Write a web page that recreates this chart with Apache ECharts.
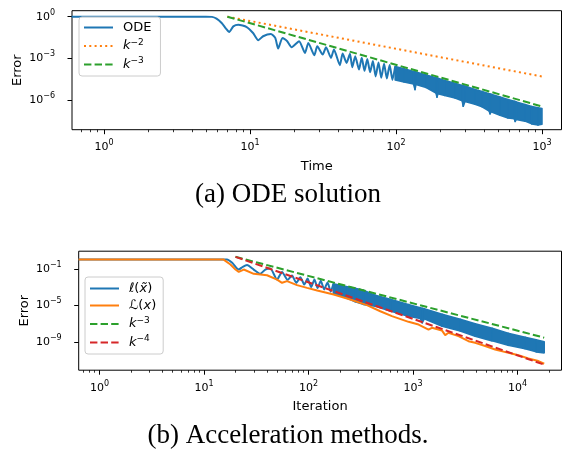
<!DOCTYPE html>
<html>
<head>
<meta charset="utf-8">
<script src="https://cdn.jsdelivr.net/npm/echarts@6/dist/echarts.min.js"></script>
<style>
  html, body { margin: 0; padding: 0; background: #fff; }
  #chart { width: 563px; height: 449px; }
</style>
</head>
<body>
<div id="chart"></div>
<script>
// ---------- (a) ODE solution ----------
// error curve while the individual oscillations are still resolved
const odeT = [0.6, 1, 2, 3, 4, 5, 5.5, 5.9, 6.4, 6.85, 7.21, 7.69, 8.32, 9.5, 10.5, 11.4, 12.3, 13.9, 14.9, 15.6,
  16.7, 18, 19.3, 21.7, 23.8, 25.1, 27.6, 28.9, 31.5, 33.2, 35.9, 37.6, 41.3, 43.1, 45.9, 48.4, 50.2, 52.6, 55.8,
  58.3, 60.9, 63.6, 66.5, 69.5, 72.6, 75.9, 79.3, 82.9, 86.6, 90.5, 94.6, 98.8];
const odeErr = [1, 1, 1, 1, 1, 1, 0.97, 0.72, 0.35, 0.14, 0.079, 0.2, 0.265, 0.18, 0.067, 0.02, 0.039, 0.057, 0.0295, 0.005,
  0.0295, 0.017, 0.0063, 0.017, 0.00245, 0.0129, 0.00166, 0.0074, 0.00186, 0.0063, 0.00107, 0.0043, 3.2e-4, 0.0022, 4.7e-4, 0.0021, 2.3e-4, 0.0014, 1.55e-4,
  1.12e-3, 1.26e-4, 8.9e-4, 1.0e-4, 6.3e-4, 5.0e-5, 5.0e-4, 4.0e-5, 4.0e-4, 3.5e-5, 3.3e-4, 2.8e-5, 2.6e-4];
// dense tail: upper and lower envelope of the oscillation
const odeBandT = [98.8, 113.6, 132, 135, 137, 161, 188, 191, 194,
  216, 254, 284, 289, 297, 348, 389, 435, 441, 448, 516, 585, 646, 656, 667, 765, 851, 940, 1000];
const odeBandHi = [2.6e-4, 1.8e-4, 1.12e-4, 1.07e-4, 1.02e-4, 6.3e-5, 4.0e-5, 3.8e-5, 3.6e-5,
  2.5e-5, 1.6e-5, 1.12e-5, 1.05e-5, 1.0e-5, 5.6e-6, 4.0e-6, 2.8e-6, 2.7e-6, 2.6e-6, 1.6e-6, 1.07e-6, 7.9e-7, 7.6e-7, 7.2e-7, 4.7e-7, 3.4e-7, 2.7e-7, 2.4e-7];
const odeBandLo = [2.8e-5, 2.0e-5, 1.4e-5, 5.6e-6, 1.3e-5, 7.9e-6, 3.2e-6, 1.6e-6, 2.8e-6,
  2.1e-6, 1.4e-6, 8.9e-7, 3.5e-7, 7.9e-7, 5.0e-7, 3.2e-7, 1.6e-7, 1.0e-7, 1.4e-7, 7.9e-8, 5.1e-8, 4.5e-8, 2.8e-8, 4.0e-8, 3.0e-8, 1.9e-8, 1.55e-8, 1.8e-8];
// reference rates
const odeRefT = [7, 1000];
const odeK2 = [1.0, 4.9e-5];
const odeK3 = [1.0, 3.4e-7];

// ---------- (b) Acceleration methods ----------
const accT = [0.63, 1, 2, 5, 10, 16.6, 18.6, 21.5, 23.5, 25.8, 29.9, 34.6, 38.6, 43.1, 50, 55.8, 63.1, 69.5, 76.4, 83.5, 91.2, 98, 106,
  114, 122, 131, 141, 152, 163, 173];
const accEll = [1.1, 1.1, 1.1, 1.1, 1.1, 1.05, 0.46, 0.085, 0.17, 0.26, 0.085, 0.029, 0.085, 0.11, 0.0068, 0.047, 0.0063, 0.0186, 0.003, 0.0125, 0.0019, 0.0087, 0.001,
  7.1e-3, 7.9e-4, 5.0e-3, 5.6e-4, 3.2e-3, 3.2e-4, 2.3e-3];
const accBandK = [173, 235, 280, 334, 435, 606, 900, 1172, 1225, 1280, 1900, 2830, 3935, 5720, 8130, 11830, 15070, 18000];
const accBandHi = [2.3e-3, 1.07e-3, 7.4e-4, 4.5e-4, 1.26e-4, 4.6e-5, 1.23e-5, 5.4e-6, 4.8e-6, 4.2e-6, 1.05e-6, 2.95e-7, 9.5e-8, 3.1e-8, 8.7e-9, 3.2e-9, 1.7e-9, 1.02e-9];
const accBandLo = [2.1e-4, 5.9e-5, 2.45e-5, 1.3e-5, 7.9e-6, 2.5e-6, 6.6e-7, 3.8e-7, 1.23e-7, 3.4e-7, 5.1e-8, 1.6e-8, 4.1e-9, 1.3e-9, 4.2e-10, 1.74e-10, 8.1e-11, 6.3e-11];
const accLk = [0.63, 1, 2, 5, 10, 15.4, 17.9, 20, 21.5, 24, 29.9, 40.1, 50, 55.8, 62.3, 77.6, 96.8, 121, 174, 251,
  362, 486, 628, 906, 1130, 1407, 1517, 1890, 2032, 2184, 2722, 3395, 3935, 4900, 6110, 8180, 10200, 12700, 15850, 18000];
const accL = [1.1, 1.1, 1.1, 1.1, 1.1, 1.05, 0.3, 0.085, 0.047, 0.085, 0.029, 0.02, 0.0068, 0.003, 0.0046, 0.00166, 8.3e-4, 4.3e-4, 1.55e-4, 4.4e-5,
  1.07e-5, 2.3e-6, 6.6e-7, 1.58e-7, 7.9e-8, 2.2e-8, 3.5e-8, 1.8e-8, 5.5e-9, 1.0e-8, 4.3e-9, 1.2e-9, 7.9e-10, 3.5e-10, 1.45e-10, 6.3e-11, 3.5e-11, 1.5e-11, 7.9e-12, 4.0e-12];
const accRefK = [20, 18000];
const accK3 = [2.1, 2.9e-9];
const accK4 = [2.1, 3.2e-12];

// tick labels (powers of ten)
const odeXTicks = [1, 10, 100, 1000];
const odeYTicks = [1e-6, 1e-3, 1];
const accXTicks = [1, 10, 100, 1000, 10000];
const accYTicks = [1e-9, 1e-5, 1e-1];

const BLUE = '#1f77b4', ORANGE = '#ff7f0e', GREEN = '#2ca02c', RED = '#d62728';
const FONT = 'DejaVu Sans';

const pairs = (xs, ys) => xs.map((x, i) => [x, ys[i]]);

function powLabel(v) {
  const e = Math.round(Math.log10(v));
  return '{b|10}{s|' + (e < 0 ? '\u2212' + (-e) : e) + '}';
}
const tickRich = {
  b: { fontFamily: FONT, fontSize: 11, lineHeight: 16, color: '#000' },
  s: { fontFamily: FONT, fontSize: 8, lineHeight: 10, verticalAlign: 'top', color: '#000' }
};

function minorTicks(lo, hi) {
  const out = [];
  for (let d = lo; d <= hi; d *= 10)
    for (let m = 2; m <= 9; m++) out.push(+(d * m).toPrecision(3));
  return out;
}

const nameStyle = { fontFamily: FONT, fontSize: 13, color: '#000' };

function xAxes(grid, min, max, ticks, minor, name) {
  return [{
    type: 'log', gridIndex: grid, position: 'bottom', min, max,
    name, nameLocation: 'middle', nameGap: 30, nameMoveOverlap: false, nameTextStyle: nameStyle,
    axisLine: { show: false }, splitLine: { show: false },
    axisTick: { show: true, customValues: ticks, length: 4.5, lineStyle: { color: '#000', width: 1 } },
    axisLabel: { customValues: ticks, formatter: powLabel, rich: tickRich, margin: 9.5 }
  }, {
    type: 'log', gridIndex: grid, position: 'bottom', min, max,
    axisLine: { show: false }, splitLine: { show: false }, axisLabel: { show: false },
    axisTick: { show: true, customValues: minor, length: 2.5, lineStyle: { color: '#000', width: 0.8 } }
  }];
}

function yAxis(grid, min, max, ticks) {
  return {
    type: 'log', gridIndex: grid, min, max,
    name: 'Error', nameLocation: 'middle', nameRotate: 90, nameGap: 48, nameMoveOverlap: false, nameTextStyle: nameStyle,
    axisLine: { show: false }, splitLine: { show: false },
    axisTick: { show: true, customValues: ticks, length: 4.5, lineStyle: { color: '#000', width: 1 } },
    axisLabel: { customValues: ticks, formatter: powLabel, rich: tickRich, margin: 17 }
  };
}

// filled envelope of a fast oscillation, one quad per interval
function band(name, xs, hi, lo, xi, yi) {
  const data = [];
  for (let i = 0; i < xs.length - 1; i++) data.push([xs[i], hi[i], lo[i], xs[i + 1], hi[i + 1], lo[i + 1]]);
  return {
    name, type: 'custom', xAxisIndex: xi, yAxisIndex: yi, silent: true, clip: true,
    encode: { x: [0, 3], y: [1, 2, 4, 5] },
    renderItem(params, api) {
      const a = api.coord([api.value(0), api.value(1)]);
      const b = api.coord([api.value(3), api.value(4)]);
      const c = api.coord([api.value(3), api.value(5)]);
      const d = api.coord([api.value(0), api.value(2)]);
      return { type: 'polygon', shape: { points: [a, b, c, d] },
        style: { fill: BLUE, stroke: BLUE, lineWidth: 1.6, lineJoin: 'round' } };
    },
    data
  };
}

function line(name, xs, ys, xi, yi, color, dash, smooth) {
  return {
    name, type: 'line', xAxisIndex: xi, yAxisIndex: yi, data: pairs(xs, ys),
    symbol: 'none', showSymbol: false, smooth: smooth || false, clip: true,
    lineStyle: { color, width: 2, type: dash || 'solid', cap: 'butt' },
    itemStyle: { color }
  };
}

const legendRich = {
  n: { fontFamily: FONT, fontSize: 13, lineHeight: 16, color: '#000' },
  i: { fontFamily: FONT, fontSize: 13, lineHeight: 16, fontStyle: 'italic', color: '#000' },
  s: { fontFamily: FONT, fontSize: 9, lineHeight: 10, verticalAlign: 'top', color: '#000' }
};
const legendText = {
  ODE: '{n|ODE}',
  k2: '{i|k}{s|\u22122}',
  k3: '{i|k}{s|\u22123}',
  ell: '{i|\u2113}{n|(}{i|x\u0303}{n|)}',
  Lcal: '{n|\u2112(}{i|x}{n|)}',
  k3b: '{i|k}{s|\u22123}',
  k4: '{i|k}{s|\u22124}'
};
function legend(names, left, top, padding) {
  return {
    data: names, orient: 'vertical', left, top,
    itemWidth: 29, itemHeight: 16, itemGap: 4, padding,
    backgroundColor: 'rgba(255,255,255,0.8)', borderColor: '#cccccc', borderWidth: 1, borderRadius: 3,
    itemStyle: { opacity: 0 },
    formatter: n => legendText[n],
    textStyle: { fontFamily: FONT, fontSize: 13, color: '#000', padding: [0, 0, 0, 5], rich: legendRich },
    selectedMode: false
  };
}

const chart = echarts.init(document.getElementById('chart'), null, { renderer: 'canvas' });
chart.setOption({
  animation: false,
  backgroundColor: '#fff',
  grid: [
    { left: 72, top: 10.7, width: 489.5, height: 119, show: true, borderColor: '#000', borderWidth: 1, backgroundColor: 'transparent' },
    { left: 78.7, top: 251.2, width: 482.8, height: 119, show: true, borderColor: '#000', borderWidth: 1, backgroundColor: 'transparent' }
  ],
  xAxis: [
    ...xAxes(0, 0.604, 1361, odeXTicks, minorTicks(0.1, 1000), 'Time'),
    ...xAxes(1, 0.632, 26360, accXTicks, minorTicks(0.1, 10000), 'Iteration')
  ],
  yAxis: [
    yAxis(0, 7.2e-9, 2.7, odeYTicks),
    yAxis(1, 7.9e-13, 8.7, accYTicks)
  ],
  legend: [
    legend(['ODE', 'k2', 'k3'], 79, 17, [4, 9, 5, 4]),
    legend(['ell', 'Lcal', 'k3b', 'k4'], 85, 277, [5, 7, 5, 4])
  ],
  graphic: [
    { type: 'text', x: 288, y: 195, style: { text: '(a) ODE solution', fontFamily: 'Liberation Serif', fontSize: 27, fill: '#000', align: 'center', verticalAlign: 'middle' } },
    { type: 'text', x: 288, y: 436, style: { text: '(b) Acceleration methods.', fontFamily: 'Liberation Serif', fontSize: 27, fill: '#000', align: 'center', verticalAlign: 'middle' } }
  ],
  series: [
    line('ODE', odeT, odeErr, 0, 0, BLUE, 'solid', 0.2),
    band('ODE tail', odeBandT, odeBandHi, odeBandLo, 0, 0),
    line('k2', odeRefT, odeK2, 0, 0, ORANGE, [2, 3.3]),
    line('k3', odeRefT, odeK3, 0, 0, GREEN, [7.4, 3.2]),

    line('ell', accT, accEll, 2, 1, BLUE, 'solid', 0.2),
    band('ell tail', accBandK, accBandHi, accBandLo, 2, 1),
    line('Lcal', accLk, accL, 2, 1, ORANGE, 'solid'),
    line('k3b', accRefK, accK3, 2, 1, GREEN, [7.4, 3.2]),
    line('k4', accRefK, accK4, 2, 1, RED, [7.4, 3.2])
  ]
});
</script>
</body>
</html>
